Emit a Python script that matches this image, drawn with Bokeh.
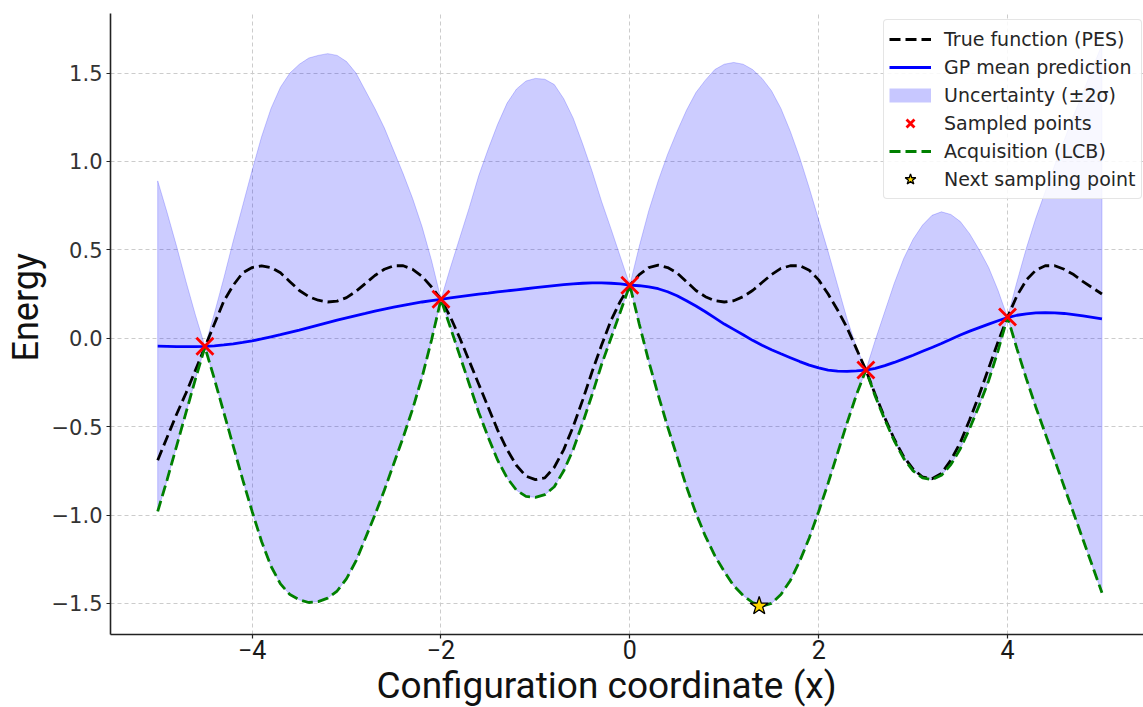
from bokeh.plotting import figure
from bokeh.models import Range1d, FixedTicker, CustomJSTickFormatter, Title, LegendItem, Legend
from bokeh.embed import file_html
from bokeh.resources import INLINE

# ---------------- data ----------------
x_vals = [-5.0, -4.9, -4.8, -4.7, -4.6, -4.5, -4.4, -4.3, -4.2, -4.1,
          -4.0, -3.9, -3.8, -3.7, -3.6, -3.5, -3.4, -3.3, -3.2, -3.1,
          -3.0, -2.9, -2.8, -2.7, -2.6, -2.5, -2.4, -2.3, -2.2, -2.1,
          -2.0, -1.9, -1.8, -1.7, -1.6, -1.5, -1.4, -1.3, -1.2, -1.1,
          -1.0, -0.9, -0.8, -0.7, -0.6, -0.5, -0.4, -0.3, -0.2, -0.1,
          0.0, 0.1, 0.2, 0.3, 0.4, 0.5, 0.6, 0.7, 0.8, 0.9,
          1.0, 1.1, 1.2, 1.3, 1.4, 1.5, 1.6, 1.7, 1.8, 1.9,
          2.0, 2.1, 2.2, 2.3, 2.4, 2.5, 2.6, 2.7, 2.8, 2.9,
          3.0, 3.1, 3.2, 3.3, 3.4, 3.5, 3.6, 3.7, 3.8, 3.9,
          4.0, 4.1, 4.2, 4.3, 4.4, 4.5, 4.6, 4.7, 4.8, 4.9, 5.0]

true_pes = [-0.69, -0.56, -0.43, -0.31, -0.18, -0.05, 0.08, 0.21, 0.30, 0.37,
            0.40, 0.41, 0.40, 0.37, 0.32, 0.27, 0.235, 0.215, 0.205, 0.21,
            0.23, 0.265, 0.31, 0.355, 0.39, 0.41, 0.41, 0.39, 0.35, 0.29,
            0.22, 0.12, 0.0, -0.13, -0.26, -0.39, -0.52, -0.63, -0.72, -0.78,
            -0.80, -0.79, -0.73, -0.63, -0.50, -0.35, -0.19, -0.04, 0.10, 0.21,
            0.30, 0.36, 0.40, 0.413, 0.40, 0.37, 0.32, 0.27, 0.235, 0.212,
            0.205, 0.212, 0.235, 0.27, 0.315, 0.36, 0.395, 0.41, 0.41, 0.385,
            0.33, 0.25, 0.16, 0.06, -0.06, -0.18, -0.32, -0.45, -0.57, -0.67,
            -0.74, -0.785, -0.795, -0.765, -0.69, -0.59, -0.46, -0.32, -0.17, -0.02,
            0.12, 0.24, 0.33, 0.385, 0.41, 0.41, 0.39, 0.36, 0.32, 0.285, 0.25]

gp_mean = [-0.045, -0.046, -0.047, -0.048, -0.048, -0.046, -0.043, -0.038, -0.032, -0.024,
           -0.015, -0.004, 0.008, 0.02, 0.033, 0.046, 0.06, 0.074, 0.088, 0.102,
           0.115, 0.128, 0.14, 0.153, 0.165, 0.176, 0.186, 0.196, 0.205, 0.213,
           0.22, 0.228, 0.235, 0.242, 0.249, 0.255, 0.262, 0.268, 0.274, 0.28,
           0.286, 0.292, 0.298, 0.303, 0.307, 0.311, 0.313, 0.313, 0.311, 0.307,
           0.30, 0.297, 0.29, 0.28, 0.263, 0.24, 0.212, 0.182, 0.15, 0.115,
           0.08, 0.05, 0.02, -0.012, -0.04, -0.065, -0.088, -0.11, -0.132, -0.152,
           -0.168, -0.18, -0.186, -0.188, -0.185, -0.18, -0.17, -0.155, -0.137, -0.117,
           -0.096, -0.074, -0.052, -0.03, -0.006, 0.018, 0.04, 0.06, 0.08, 0.099,
           0.117, 0.13, 0.138, 0.143, 0.145, 0.144, 0.14, 0.134, 0.126, 0.118, 0.11]

lcb = [-0.98, -0.80, -0.61, -0.42, -0.23, -0.05, -0.23, -0.42, -0.61, -0.80,
       -0.98, -1.15, -1.29, -1.39, -1.45, -1.48, -1.495, -1.49, -1.47, -1.43,
       -1.36, -1.26, -1.13, -1.0, -0.86, -0.71, -0.56, -0.40, -0.22, -0.01,
       0.22, 0.06, -0.10, -0.26, -0.42, -0.56, -0.69, -0.79, -0.86, -0.895,
       -0.90, -0.885, -0.84, -0.75, -0.63, -0.48, -0.32, -0.15, 0.0, 0.15,
       0.30, 0.08, -0.13, -0.32, -0.50, -0.67, -0.84, -0.99, -1.12, -1.23,
       -1.32, -1.40, -1.455, -1.495, -1.515, -1.50, -1.45, -1.37, -1.26, -1.13,
       -0.98, -0.82, -0.65, -0.48, -0.32, -0.18, -0.33, -0.46, -0.58, -0.68,
       -0.75, -0.79, -0.80, -0.775, -0.715, -0.625, -0.51, -0.38, -0.24, -0.07,
       0.12, -0.06, -0.23, -0.39, -0.54, -0.69, -0.84, -0.99, -1.14, -1.29, -1.44]

band_upper = [0.89, 0.71, 0.52, 0.32, 0.13, -0.046, 0.14, 0.34, 0.55, 0.75,
              0.95, 1.14, 1.30, 1.42, 1.50, 1.55, 1.585, 1.60, 1.61, 1.60,
              1.565, 1.50, 1.40, 1.30, 1.19, 1.06, 0.93, 0.79, 0.63, 0.44,
              0.22, 0.40, 0.57, 0.74, 0.92, 1.07, 1.21, 1.33, 1.41, 1.455,
              1.47, 1.465, 1.435, 1.355, 1.245, 1.10, 0.945, 0.775, 0.62, 0.46,
              0.30, 0.52, 0.72, 0.89, 1.04, 1.17, 1.29, 1.39, 1.46, 1.52,
              1.55, 1.56, 1.55, 1.52, 1.47, 1.40, 1.30, 1.17, 1.02, 0.85,
              0.67, 0.49, 0.30, 0.11, -0.05, -0.18, -0.01, 0.15, 0.31, 0.45,
              0.56, 0.64, 0.695, 0.715, 0.70, 0.66, 0.59, 0.50, 0.40, 0.27,
              0.117, 0.32, 0.51, 0.68, 0.83, 0.98, 1.12, 1.26, 1.39, 1.53, 1.66]

sample_x = [-4.5, -2.0, 0.0, 2.5, 4.0]
sample_y = [-0.045, 0.22, 0.30, -0.18, 0.12]

next_x = [1.37]
next_y = [-1.515]

x_ticks = [-4, -2, 0, 2, 4]
y_ticks = [-1.5, -1.0, -0.5, 0.0, 0.5, 1.0, 1.5]

labels = ["True function (PES)", "GP mean prediction", "Uncertainty (\u00b12\u03c3)",
          "Sampled points", "Acquisition (LCB)", "Next sampling point"]

# ---------------- figure ----------------
p = figure(width=1143, height=707, output_backend="svg", toolbar_location=None,
           x_range=Range1d(-5.50, 5.44), y_range=Range1d(-1.676, 1.837),
           min_border_left=110, min_border_right=0, min_border_top=13,
           min_border_bottom=73)
p.outline_line_color = None
p.background_fill_color = "white"
p.border_fill_color = "white"

# grid
p.grid.grid_line_color = "#cccccc"
p.grid.grid_line_dash = "4 3"
p.grid.grid_line_width = 1

# axes
for ax in (p.xaxis, p.yaxis):
    ax.axis_line_color = "#222222"
    ax.axis_line_width = 1.6
    ax.major_tick_line_color = "#222222"
    ax.major_tick_line_width = 1.2
    ax.major_tick_out = 4
    ax.major_tick_in = 0
    ax.minor_tick_out = 0
    ax.minor_tick_in = 0

p.xaxis.ticker = FixedTicker(ticks=x_ticks)
p.yaxis.ticker = FixedTicker(ticks=y_ticks)
p.xaxis.formatter = CustomJSTickFormatter(
    code="return tick < 0 ? '\u2212' + Math.abs(tick).toFixed(0) : tick.toFixed(0);")
p.yaxis.formatter = CustomJSTickFormatter(
    code="return tick < 0 ? '\u2212' + Math.abs(tick).toFixed(1) : tick.toFixed(1);")
p.xaxis.major_label_text_font = "Roboto"
p.xaxis.major_label_text_font_size = "25px"
p.xaxis.major_label_text_color = "#1a1a1a"
p.xaxis.major_label_standoff = 1
p.yaxis.major_label_text_font = "DejaVu Sans"
p.yaxis.major_label_text_font_size = "21px"
p.yaxis.major_label_text_color = "#333333"
p.yaxis.major_label_standoff = 4

# ---------------- series ----------------
band_x = x_vals + x_vals[::-1]
band_y = band_upper + lcb[::-1]
r_band = p.patch(band_x, band_y, fill_color="#0000ff", fill_alpha=0.2,
                 line_color="#0000ff", line_alpha=0.2, line_width=1)
# legend key for the band (a short thick bar, no visible data)
r_band_key = p.line([float("nan")], [float("nan")], line_color="#0000ff",
                    line_alpha=0.22, line_width=14)
r_true = p.line(x_vals, true_pes, line_color="black", line_dash="11 5", line_width=2.8)
r_mean = p.line(x_vals, gp_mean, line_color="#0000ff", line_width=2.8)
r_lcb = p.line(x_vals, lcb, line_color="#008000", line_dash="11 5", line_width=2.8)
r_samp = p.scatter(sample_x, sample_y, marker="x", size=24, line_color="red",
                   line_width=2.8)
r_next = p.scatter(next_x, next_y, marker="star", size=19, fill_color="#FFD700",
                   line_color="black", line_width=1.3)

items = [LegendItem(label=lab, renderers=[r]) for lab, r in
         zip(labels, [r_true, r_mean, r_band_key, r_samp, r_lcb, r_next])]
lg = Legend(items=items, location=(773, 435))
lg.label_text_font = "DejaVu Sans"
lg.label_text_font_size = "19px"
lg.label_text_color = "#262626"
lg.glyph_width = 42
lg.glyph_height = 28
lg.label_height = 28
lg.label_standoff = 13
lg.spacing = 0
lg.padding = 5
lg.border_line_color = "#cccccc"
lg.border_line_width = 1
lg.border_radius = 4
lg.background_fill_alpha = 0.85
p.add_layout(lg)

# axis titles
p.add_layout(Title(text="Configuration coordinate (x)", align="left", offset=266,
                   standoff=0, text_font="Roboto", text_font_size="37px",
                   text_font_style="normal", text_color="#111111"), "below")
p.add_layout(Title(text="Energy", align="left", offset=273,
                   standoff=4, text_font="Roboto", text_font_size="36px",
                   text_font_style="normal", text_color="#111111"), "left")

open("out.html", "w").write(file_html(p, INLINE))
